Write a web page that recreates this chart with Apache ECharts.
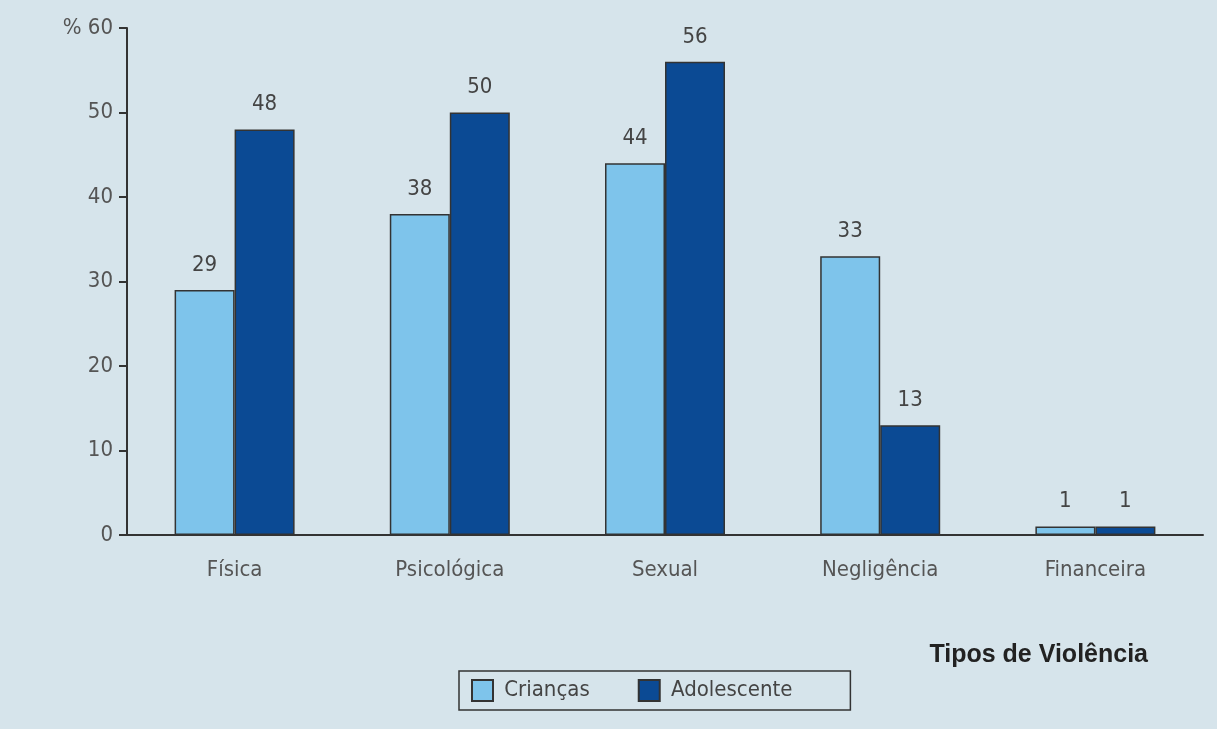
<!DOCTYPE html>
<html>
<head>
<meta charset="utf-8">
<script src="https://cdn.jsdelivr.net/npm/echarts@6/dist/echarts.min.js"></script>
<style>
  html, body { margin: 0; padding: 0; background: #d6e4eb; }
  #chart { width: 1217px; height: 729px; }
</style>
</head>
<body>
<div id="chart"></div>
<script>
var categories = ['Física', 'Psicológica', 'Sexual', 'Negligência', 'Financeira'];
var criancas = [29, 38, 44, 33, 1];
var adolescente = [48, 50, 56, 13, 1];
var yTicks = [0, 10, 20, 30, 40, 50, 60];

var narrow = "'Liberation Sans Narrow', 'DejaVu Sans Condensed', sans-serif";

var myChart = echarts.init(document.getElementById('chart'));
var option = {
    backgroundColor: '#d6e4eb',
    textStyle: {
        fontFamily: narrow
    },
    title: {
        text: 'Tipos de Violência',
        right: 64,
        top: 638,
        textStyle: {
            fontFamily: "'Liberation Sans', Arial, sans-serif",
            fontWeight: 'bold',
            fontSize: 25,
            color: '#222'
        }
    },
    legend: {
        data: ['Crianças', 'Adolescente'],
        icon: 'rect',
        left: 459,
        top: 671,
        itemWidth: 21,
        itemHeight: 21,
        itemGap: 48,
        padding: [8, 58, 8, 12],
        borderColor: '#333',
        borderWidth: 1.5,
        formatter: function (name) {
            return ' ' + name;
        },
        textStyle: {
            fontFamily: narrow,
            fontSize: 22,
            color: '#444'
        }
    },
    grid: {
        left: 127,
        right: 14,
        top: 28,
        bottom: 194
    },
    xAxis: {
        type: 'category',
        data: categories,
        axisLine: { lineStyle: { color: '#333', width: 2 } },
        axisTick: { length: 8, lineStyle: { color: '#333', width: 2 } },
        axisLabel: {
            margin: 24,
            fontSize: 22,
            color: '#555',
            fontFamily: narrow
        }
    },
    yAxis: {
        type: 'value',
        min: 0,
        max: 60,
        interval: 10,
        splitLine: { show: false },
        axisLine: { show: true, lineStyle: { color: '#333', width: 2 } },
        axisTick: { show: true, length: 8, lineStyle: { color: '#333', width: 2 } },
        axisLabel: {
            margin: 14,
            fontSize: 22,
            color: '#555',
            fontFamily: narrow,
            formatter: function (v) {
                if (yTicks.indexOf(v) < 0) return '';
                return v === 60 ? '% 60' : String(v);
            }
        }
    },
    series: [
        {
            name: 'Crianças',
            type: 'bar',
            data: criancas,
            barWidth: 60,
            barGap: '0%',
            itemStyle: { color: '#7ec4eb', borderColor: '#333', borderWidth: 1.5 },
            label: {
                show: true,
                position: 'top',
                distance: 14,
                fontSize: 22,
                color: '#444',
                fontFamily: narrow
            }
        },
        {
            name: 'Adolescente',
            type: 'bar',
            data: adolescente,
            barWidth: 60,
            itemStyle: { color: '#0b4a94', borderColor: '#333', borderWidth: 1.5 },
            label: {
                show: true,
                position: 'top',
                distance: 14,
                fontSize: 22,
                color: '#444',
                fontFamily: narrow
            }
        }
    ]
};
myChart.setOption(option);
</script>
</body>
</html>
